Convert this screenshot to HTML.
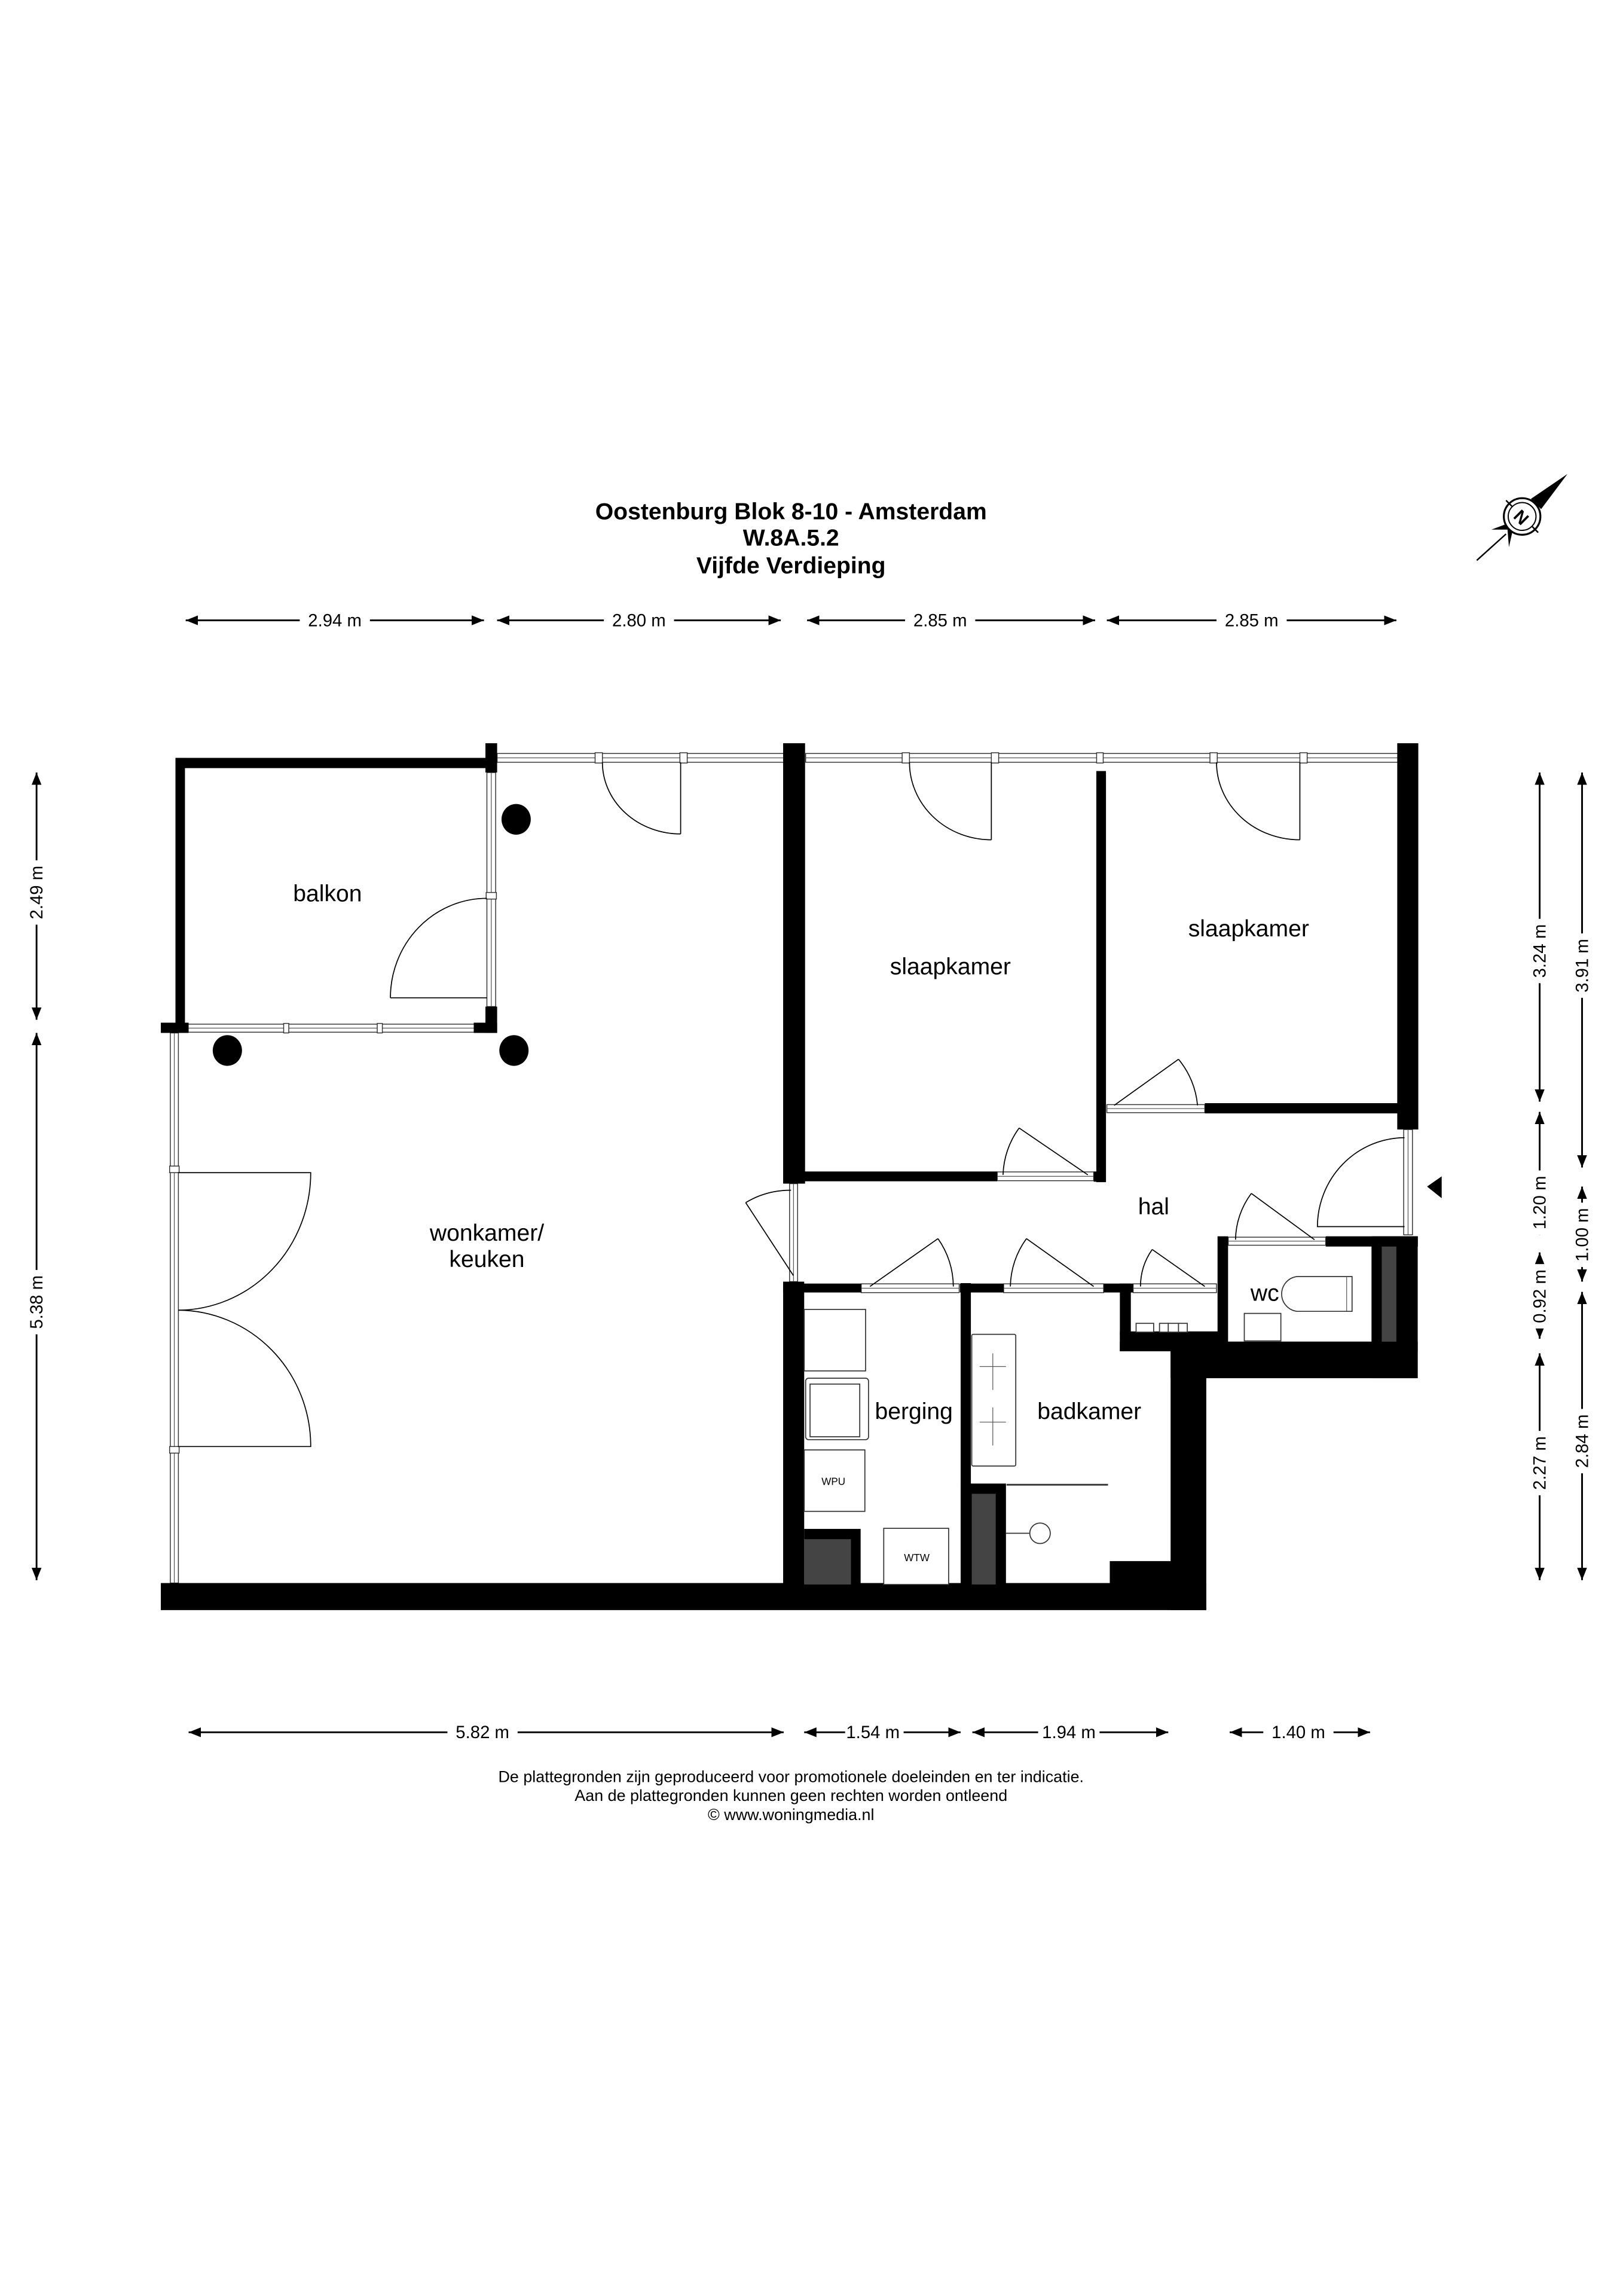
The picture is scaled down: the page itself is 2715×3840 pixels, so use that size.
<!DOCTYPE html>
<html><head><meta charset="utf-8"><style>
html,body{margin:0;padding:0;background:#fff}
svg{display:block}
text{font-family:"Liberation Sans",Arial,sans-serif;fill:#000}
</style></head><body>
<svg width="2715" height="3840" viewBox="0 0 1110 1569.3" preserveAspectRatio="none" xmlns="http://www.w3.org/2000/svg">
<defs>
<marker id="ar" viewBox="0 0 10 10" refX="10" refY="5" markerWidth="7" markerHeight="7" orient="auto-start-reverse"><path d="M0,1 L10,5 L0,9 z" fill="#000"/></marker>
</defs>
<rect width="1110" height="1569.3" fill="#fff"/>

<!-- Title -->
<g font-weight="bold" font-size="16" text-anchor="middle">
<text x="541" y="355">Oostenburg Blok 8-10 - Amsterdam</text>
<text x="541" y="373">W.8A.5.2</text>
<text x="541" y="392">Vijfde Verdieping</text>
</g>

<!-- Compass -->
<g>
<line x1="1010" y1="383" x2="1030" y2="365" stroke="#000" stroke-width="1"/>
<polygon points="1072,324 1047,341 1054,348" fill="#000"/>
<polygon points="1020,362 1031,362 1032,374 1036,356" fill="#000"/>
<circle cx="1041" cy="353" r="12.5" fill="#fff" stroke="#000" stroke-width="1.3"/>
<circle cx="1041" cy="353" r="9.5" fill="none" stroke="#000" stroke-width="0.8"/>
<line x1="1030" y1="342" x2="1034" y2="346" stroke="#000" stroke-width="1"/>
<line x1="1048" y1="360" x2="1052" y2="364" stroke="#000" stroke-width="1"/>
<text x="1041" y="358" font-size="12" font-weight="bold" text-anchor="middle" transform="rotate(45 1041 353)">N</text>
</g>

<!-- Dimension lines -->
<g stroke="#000" stroke-width="1.2" fill="none">
<line x1="127" y1="424" x2="331" y2="424" marker-start="url(#ar)" marker-end="url(#ar)"/>
<line x1="340" y1="424" x2="534" y2="424" marker-start="url(#ar)" marker-end="url(#ar)"/>
<line x1="552" y1="424" x2="749" y2="424" marker-start="url(#ar)" marker-end="url(#ar)"/>
<line x1="757" y1="424" x2="955" y2="424" marker-start="url(#ar)" marker-end="url(#ar)"/>
<line x1="129" y1="1184" x2="536" y2="1184" marker-start="url(#ar)" marker-end="url(#ar)"/>
<line x1="550" y1="1184" x2="657" y2="1184" marker-start="url(#ar)" marker-end="url(#ar)"/>
<line x1="665" y1="1184" x2="799" y2="1184" marker-start="url(#ar)" marker-end="url(#ar)"/>
<line x1="841" y1="1184" x2="937" y2="1184" marker-start="url(#ar)" marker-end="url(#ar)"/>
<line x1="25" y1="528" x2="25" y2="697" marker-start="url(#ar)" marker-end="url(#ar)"/>
<line x1="25" y1="706" x2="25" y2="1080" marker-start="url(#ar)" marker-end="url(#ar)"/>
<line x1="1053" y1="528" x2="1053" y2="753" marker-start="url(#ar)" marker-end="url(#ar)"/>
<line x1="1053" y1="760" x2="1053" y2="844" marker-start="url(#ar)" marker-end="url(#ar)"/>
<line x1="1053" y1="856" x2="1053" y2="915" marker-start="url(#ar)" marker-end="url(#ar)"/>
<line x1="1053" y1="925" x2="1053" y2="1080" marker-start="url(#ar)" marker-end="url(#ar)"/>
<line x1="1082" y1="528" x2="1082" y2="798" marker-start="url(#ar)" marker-end="url(#ar)"/>
<line x1="1082" y1="811" x2="1082" y2="876" marker-start="url(#ar)" marker-end="url(#ar)"/>
<line x1="1082" y1="883" x2="1082" y2="1080" marker-start="url(#ar)" marker-end="url(#ar)"/>
</g>
<g font-size="12" text-anchor="middle">
<g fill="#fff"><rect x="205" y="416" width="48" height="16"/><rect x="413" y="416" width="48" height="16"/><rect x="619" y="416" width="48" height="16"/><rect x="832" y="416" width="48" height="16"/>
<rect x="306" y="1176" width="48" height="16"/><rect x="578" y="1176" width="40" height="16"/><rect x="710" y="1176" width="42" height="16"/><rect x="864" y="1176" width="48" height="16"/>
<rect x="17" y="588" width="16" height="44"/><rect x="17" y="868" width="16" height="44"/>
<rect x="1045" y="628" width="16" height="44"/><rect x="1045" y="800" width="16" height="44"/><rect x="1045" y="864" width="16" height="44"/><rect x="1045" y="978" width="16" height="44"/>
<rect x="1074" y="638" width="16" height="44"/><rect x="1074" y="822" width="16" height="44"/><rect x="1074" y="963" width="16" height="44"/></g>
<text x="229" y="428">2.94 m</text><text x="437" y="428">2.80 m</text><text x="643" y="428">2.85 m</text><text x="856" y="428">2.85 m</text>
<text x="330" y="1188">5.82 m</text><text x="597" y="1188">1.54 m</text><text x="731" y="1188">1.94 m</text><text x="888" y="1188">1.40 m</text>
<text transform="translate(29,610) rotate(-90)">2.49 m</text>
<text transform="translate(29,890) rotate(-90)">5.38 m</text>
<text transform="translate(1057,650) rotate(-90)">3.24 m</text>
<text transform="translate(1057,822) rotate(-90)">1.20 m</text>
<text transform="translate(1057,886) rotate(-90)">0.92 m</text>
<text transform="translate(1057,1000) rotate(-90)">2.27 m</text>
<text transform="translate(1086,660) rotate(-90)">3.91 m</text>
<text transform="translate(1086,844) rotate(-90)">1.00 m</text>
<text transform="translate(1086,985) rotate(-90)">2.84 m</text>
</g>

<!-- Footer -->
<g font-size="11" text-anchor="middle">
<text x="541" y="1218">De plattegronden zijn geproduceerd voor promotionele doeleinden en ter indicatie.</text>
<text x="541" y="1231">Aan de plattegronden kunnen geen rechten worden ontleend</text>
<text x="541" y="1244">© www.woningmedia.nl</text>
</g>

<!-- Windows -->
<g fill="#fff" stroke="#333" stroke-width="0.6">
<rect x="340" y="515" width="196" height="6"/>
<rect x="551" y="515" width="405" height="6"/>
<rect x="127" y="700" width="198" height="5.5"/>
<rect x="333" y="528" width="6" height="160"/>
<rect x="116.5" y="706" width="5.5" height="376"/>
<rect x="960" y="772" width="6" height="72"/>
<rect x="540" y="809" width="5.5" height="67"/>
</g>
<g stroke="#555" stroke-width="0.5">
<line x1="340" y1="518" x2="536" y2="518"/>
<line x1="551" y1="518" x2="956" y2="518"/>
<line x1="127" y1="702.7" x2="325" y2="702.7"/>
<line x1="336" y1="528" x2="336" y2="688"/>
<line x1="119.2" y1="706" x2="119.2" y2="1082"/>
<line x1="963" y1="772" x2="963" y2="844"/>
<line x1="542.7" y1="809" x2="542.7" y2="876"/>
</g>
<g fill="#fff" stroke="#333" stroke-width="0.6">
<rect x="407" y="514.5" width="5" height="7"/><rect x="465" y="514.5" width="5" height="7"/>
<rect x="617" y="514.5" width="5" height="7"/><rect x="678" y="514.5" width="5" height="7"/><rect x="750" y="514.5" width="4.5" height="7"/>
<rect x="827.5" y="514.5" width="5" height="7"/><rect x="889" y="514.5" width="5" height="7"/>
<rect x="194" y="699.5" width="3.5" height="6.5"/><rect x="258" y="699.5" width="3.5" height="6.5"/>
<rect x="332.5" y="610" width="7" height="4.5"/>
<rect x="116" y="797" width="6.5" height="4.5"/><rect x="116" y="988.7" width="6.5" height="4.5"/>
<!-- door sills -->
<rect x="682" y="801" width="66" height="6"/>
<rect x="757" y="755" width="67" height="5.5"/>
<rect x="589" y="877.5" width="67" height="6"/>
<rect x="686.4" y="877.5" width="68.4" height="6"/>
<rect x="775" y="877.5" width="57" height="6"/>
<rect x="840" y="845.6" width="66.7" height="5.5"/>
</g>
<g stroke="#555" stroke-width="0.5">
<line x1="682" y1="804" x2="748" y2="804"/>
<line x1="757" y1="757.7" x2="824" y2="757.7"/>
<line x1="589" y1="880.5" x2="656" y2="880.5"/>
<line x1="686.4" y1="880.5" x2="754.8" y2="880.5"/>
<line x1="775" y1="880.5" x2="832" y2="880.5"/>
<line x1="840" y1="848.3" x2="906.7" y2="848.3"/>
</g>

<!-- Walls -->
<g fill="#000">
<rect x="120" y="518" width="213" height="7"/>
<rect x="120" y="518" width="6.5" height="182"/>
<rect x="332" y="508" width="8" height="20"/>
<rect x="332" y="688" width="8" height="18"/>
<rect x="324" y="699" width="16" height="7"/>
<rect x="110" y="699" width="19" height="7"/>
<rect x="535.6" y="508" width="15" height="301"/>
<rect x="749.8" y="527" width="6.6" height="281"/>
<rect x="550" y="800.7" width="132" height="6.7"/>
<rect x="748" y="800.7" width="8" height="7"/>
<rect x="955.6" y="508" width="14.4" height="264"/>
<rect x="824" y="754" width="134" height="7"/>
<rect x="110" y="1082" width="715" height="18.5"/>
<rect x="535.6" y="876" width="14.4" height="210"/>
<rect x="535.6" y="877.3" width="53.4" height="6.1"/>
<rect x="656.5" y="877.3" width="29.9" height="6.1"/>
<rect x="657" y="877" width="7" height="210"/>
<rect x="754.8" y="877.3" width="20.1" height="6.1"/>
<rect x="765.9" y="877.3" width="7.5" height="46.3"/>
<rect x="832.7" y="845" width="7.2" height="75"/>
<rect x="906.7" y="845" width="63" height="7"/>
<rect x="938" y="845" width="31.6" height="97"/>
<rect x="765.9" y="917" width="203.7" height="6.6"/>
<rect x="765.9" y="910" width="67" height="13.6"/>
<rect x="800.6" y="917" width="169" height="25"/>
<rect x="800.6" y="917" width="24.4" height="183.5"/>
<rect x="759" y="1067" width="42" height="16"/>
<!-- columns -->
<ellipse cx="353" cy="560" rx="10" ry="10.5"/>
<ellipse cx="155.5" cy="718" rx="10" ry="10.5"/>
<ellipse cx="351.5" cy="718" rx="10" ry="10.5"/>
<polygon points="976,811 986,804 986,819"/>
</g>
<!-- grey shafts -->
<rect x="945" y="852" width="10" height="65" fill="#444"/>
<rect x="550" y="1045" width="38.6" height="38" fill="#000"/>
<rect x="550" y="1052" width="32" height="31" fill="#444"/>
<rect x="657" y="1014" width="31" height="69" fill="#000"/>
<rect x="664.6" y="1021" width="16.4" height="62" fill="#444"/>

<!-- Doors -->
<g fill="none" stroke="#000" stroke-width="0.7">
<path d="M465.5,521 L465.5,570 M412,521 A53.5,49 0 0 0 465.5,570"/>
<path d="M678,521 L678,574 M622,521 A56,53 0 0 0 678,574"/>
<path d="M889,521 L889,574 M832,521 A57,53 0 0 0 889,574"/>
<path d="M333,682 L267,682 M267,682 A66,68 0 0 1 333,614"/>
<path d="M121.7,801.5 L212.5,801.5 A91,94 0 0 1 122,895.5"/>
<path d="M121.7,988.7 L212.5,988.7 A91,93 0 0 0 122,895.5"/>
<path d="M744,803 L697,771 M697,771 A57,57 0 0 0 686,803"/>
<path d="M762,755.5 L806,724 M806,724 A57,57 0 0 1 819,755.5"/>
<path d="M595,879.3 L641.5,846.6 M641.5,846.6 A57,57 0 0 1 652,879.3"/>
<path d="M748,879.3 L702,846.6 M702,846.6 A57,57 0 0 0 691,879.3"/>
<path d="M824,879.3 L788,854 M788,854 A44,44 0 0 0 780,879.3"/>
<path d="M899,847.3 L855.8,815.7 M855.8,815.7 A54,54 0 0 0 845,847.3"/>
<path d="M960.6,838.4 L901,838.4 A60,61 0 0 1 960.6,777.6"/>
<path d="M542.6,871.8 L510,822 M510,822 A59,59 0 0 1 541,813.5"/>
</g>

<!-- Fixtures -->
<g fill="#fff" stroke="#333" stroke-width="0.7">
<rect x="550" y="895" width="42" height="42"/>
<rect x="551" y="942" width="43" height="42" rx="2"/>
<rect x="554" y="946" width="34" height="36"/>
<rect x="550" y="991" width="41.5" height="42"/>
<rect x="604.4" y="1044.6" width="44.4" height="38.4"/>
<rect x="664.6" y="912" width="30.1" height="90" rx="1"/>
<line x1="688.4" y1="1014.8" x2="757.8" y2="1014.8" stroke-width="1.2"/>
<circle cx="711.3" cy="1048" r="7"/>
<line x1="688" y1="1048" x2="704" y2="1048"/>
<path d="M887,872.5 L924.7,872.5 L924.7,896.3 L887,896.3 A12,12 0 0 1 887,872.5 Z"/>
<rect x="851" y="897.7" width="25" height="18.8"/>
<rect x="777" y="904.5" width="12" height="6"/>
<rect x="793" y="904.5" width="6" height="6"/><rect x="799" y="904.5" width="7" height="6"/><rect x="806" y="904.5" width="6" height="6"/>
</g>
<g fill="none" stroke="#555" stroke-width="0.5">
<line x1="679" y1="925" x2="679" y2="950"/><line x1="670" y1="934" x2="688" y2="934"/>
<line x1="679" y1="962" x2="679" y2="988"/><line x1="670" y1="972" x2="688" y2="972"/>
<line x1="921" y1="873" x2="921" y2="896"/>
</g>
<g font-size="7" text-anchor="middle"><text x="570" y="1015">WPU</text><text x="627" y="1067">WTW</text></g>

<!-- Room labels -->
<g font-size="16" text-anchor="middle">
<text x="224" y="616">balkon</text>
<text x="650" y="666">slaapkamer</text>
<text x="854" y="640">slaapkamer</text>
<text x="333" y="848">wonkamer/</text>
<text x="333" y="866">keuken</text>
<text x="789" y="830">hal</text>
<text x="625" y="970">berging</text>
<text x="745" y="970">badkamer</text>
<text x="865" y="889">wc</text>
</g>
</svg>
</body></html>
